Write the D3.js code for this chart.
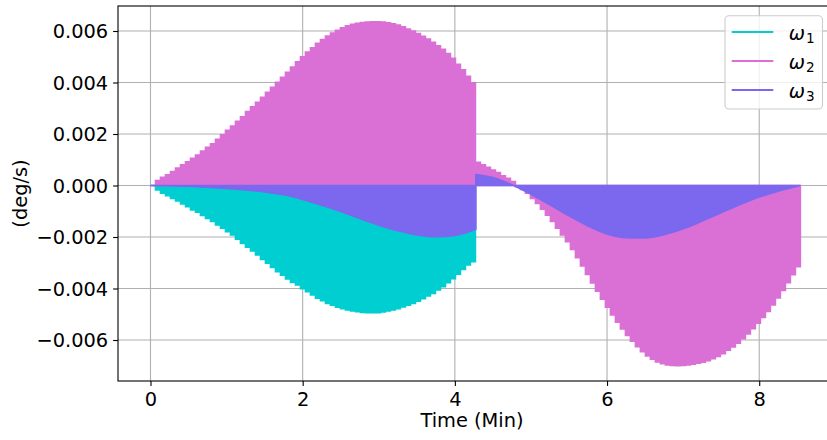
<!DOCTYPE html>
<html>
<head>
<meta charset="utf-8">
<script src="https://cdn.jsdelivr.net/npm/d3@7"></script>
<style>
  body { margin: 0; background: #fff; }
  svg { display: block; }
  text { font-family: "DejaVu Sans", sans-serif; fill: #000; }
</style>
</head>
<body>
<svg id="chart" width="827" height="440"></svg>
<script>
// Body rates during the manoeuvre, held for one control sample each (deg/s).
const SAMPLE_MIN = 0.0657;   // control sample period in minutes

const omega1 = [
  0, -0.00017, -0.0003, -0.0004, -0.0005, -0.0006, -0.00072, -0.00082, -0.00095, -0.00104,
  -0.00116, -0.00128, -0.0014, -0.00153, -0.00166, -0.00179, -0.00192, -0.00209, -0.00225, -0.0024,
  -0.00254, -0.0027, -0.00287, -0.00302, -0.00318, -0.00335, -0.00348, -0.00363, -0.00376, -0.00386,
  -0.00401, -0.00412, -0.00425, -0.00438, -0.00447, -0.00458, -0.00465, -0.00473, -0.00478, -0.00483,
  -0.00487, -0.0049, -0.00493, -0.00494, -0.00494, -0.00494, -0.00491, -0.00487, -0.00483, -0.00478,
  -0.00472, -0.00465, -0.00458, -0.00449, -0.0044, -0.00429, -0.00419, -0.00406, -0.00393, -0.00377,
  -0.00362, -0.00344, -0.00326, -0.00309, -0.00296
];

const omega2 = [
  0, 0.00019, 0.00032, 0.00042, 0.00054, 0.00068, 0.0008, 0.00092, 0.00106, 0.00118,
  0.00134, 0.00148, 0.00162, 0.00179, 0.00197, 0.00214, 0.00231, 0.00249, 0.00267, 0.00287,
  0.00306, 0.00323, 0.00343, 0.00362, 0.00381, 0.00401, 0.0042, 0.0044, 0.0046, 0.0048,
  0.005, 0.00518, 0.00535, 0.00552, 0.00567, 0.0058, 0.00592, 0.00603, 0.00612, 0.0062,
  0.00626, 0.0063, 0.00633, 0.00635, 0.00636, 0.00636, 0.00635, 0.00632, 0.00628, 0.00623,
  0.00616, 0.00608, 0.006, 0.0059, 0.00579, 0.00569, 0.00556, 0.00543, 0.00529, 0.00512,
  0.00494, 0.00471, 0.00449, 0.00424, 0.00399,
  0.0009, 0.0008, 0.00071, 0.0006, 0.0005, 0.00038, 0.00028, 0.00015,
  -0.00005, -0.00015, -0.0003, -0.0005, -0.0007, -0.00092, -0.00115, -0.0014, -0.00166, -0.00192,
  -0.00218, -0.00248, -0.0028, -0.00312, -0.00345, -0.00378, -0.0041, -0.00442, -0.00473, -0.00503,
  -0.00531, -0.00557, -0.00582, -0.00605, -0.00626, -0.00645, -0.00662,
  -0.00675, -0.00685, -0.00692, -0.00697, -0.00699, -0.007, -0.00699, -0.00697, -0.00694, -0.0069,
  -0.00686, -0.0068, -0.00673, -0.00664, -0.00653, -0.0064, -0.00627, -0.00612, -0.00595, -0.00576,
  -0.00556, -0.00535, -0.00512, -0.00489, -0.00464, -0.00437, -0.00408, -0.00377, -0.00346, -0.00315
];

// ω3 is logged on its own time base (minutes); the repeated time marks the mode switch.
const omega3Time = [
  0, 0.25, 0.5, 0.75, 1.0, 1.25, 1.5, 1.75, 2.0, 2.25, 2.5, 2.75, 3.0, 3.25, 3.5, 3.75, 4.0, 4.276,
  4.276, 4.5, 4.75, 5.0, 5.25, 5.5, 5.75, 6.0, 6.25, 6.5, 6.75, 7.0, 7.25, 7.5, 7.75, 8.0, 8.25, 8.54
];
const omega3 = [
  0, -0.00001, -0.00003, -0.00007, -0.00011, -0.00017, -0.00025, -0.00036, -0.00054, -0.00077,
  -0.00101, -0.00128, -0.00154, -0.00176, -0.00192, -0.00199, -0.00194, -0.0017,
  0.00043, 0.00031, 0.00003, -0.00034, -0.00075, -0.00118, -0.00157, -0.00188, -0.00203, -0.00204,
  -0.00191, -0.00168, -0.00138, -0.00106, -0.00074, -0.00045, -0.00022, 0
];

const seriesLabels = ["1", "2", "3"];            // subscripts of ω
const seriesColors = ["#00ced1", "#da70d6", "#7b68ee"];
const xTicks = [0, 2, 4, 6, 8];
const yTicks = [-0.006, -0.004, -0.002, 0, 0.002, 0.004, 0.006];
const xTitle = "Time (Min)";
const yTitle = "(deg/s)";

// ---- layout ----
const FONT = 19.4;
const plot = { left: 118, top: 6, right: 832.8, bottom: 381 };

const svg = d3.select("#chart");
const x = d3.scaleLinear().domain([-0.427, 8.967]).range([plot.left, plot.right]);
const y = d3.scaleLinear().domain([-0.007592, 0.006971]).range([plot.bottom, plot.top]);

svg.append("defs").append("clipPath").attr("id", "plot-clip")
  .append("rect")
  .attr("x", plot.left).attr("y", plot.top)
  .attr("width", plot.right - plot.left).attr("height", plot.bottom - plot.top);

// grid
const grid = svg.append("g").attr("stroke", "#b0b0b0").attr("stroke-width", 1.1);
grid.selectAll("line.gx").data(xTicks).join("line")
  .attr("x1", d => x(d)).attr("x2", d => x(d))
  .attr("y1", plot.top).attr("y2", plot.bottom);
grid.selectAll("line.gy").data(yTicks).join("line")
  .attr("y1", d => y(d)).attr("y2", d => y(d))
  .attr("x1", plot.left).attr("x2", plot.right);

// data
const dataLayer = svg.append("g").attr("clip-path", "url(#plot-clip)");

function stepped(values) {
  const pts = values.map((v, i) => ({ t: i * SAMPLE_MIN, v }));
  pts.push({ t: values.length * SAMPLE_MIN, v: values[values.length - 1] });
  return pts;
}

const stepArea = d3.area()
  .x(d => x(d.t)).y0(y(0)).y1(d => y(d.v))
  .curve(d3.curveStepAfter);

const smoothArea = d3.area()
  .x(d => x(d.t)).y0(y(0)).y1(d => y(d.v))
  .curve(d3.curveMonotoneX);

function drawArea(pathGen, pts, color) {
  dataLayer.append("path")
    .attr("d", pathGen(pts))
    .attr("fill", color)
    .attr("stroke", color)
    .attr("stroke-width", 1.6)
    .attr("stroke-linejoin", "miter");
}

drawArea(stepArea, stepped(omega1), seriesColors[0]);
drawArea(stepArea, stepped(omega2), seriesColors[1]);

// ω3: split into continuous pieces at the repeated time stamp
const w3pts = omega3Time.map((t, i) => ({ t, v: omega3[i] }));
const pieces = [[]];
w3pts.forEach((p, i) => {
  if (i > 0 && p.t === w3pts[i - 1].t) pieces.push([]);
  pieces[pieces.length - 1].push(p);
});
pieces.forEach(pc => drawArea(smoothArea, pc, seriesColors[2]));

// frame
svg.append("rect")
  .attr("x", plot.left).attr("y", plot.top)
  .attr("width", plot.right - plot.left).attr("height", plot.bottom - plot.top)
  .attr("fill", "none").attr("stroke", "#000").attr("stroke-width", 1.1);

// axes
const fmt = d3.format(".3f");
const xAxis = svg.append("g")
  .attr("transform", `translate(0,${plot.bottom})`)
  .call(d3.axisBottom(x).tickValues(xTicks).tickFormat(d3.format("d"))
        .tickSize(4.9).tickPadding(4.9));
const yAxis = svg.append("g")
  .attr("transform", `translate(${plot.left},0)`)
  .call(d3.axisLeft(y).tickValues(yTicks).tickFormat(fmt)
        .tickSize(4.9).tickPadding(4.9));

[xAxis, yAxis].forEach(g => {
  g.select(".domain").remove();
  g.selectAll(".tick line").attr("stroke", "#000").attr("stroke-width", 1.1);
  g.selectAll(".tick text")
    .attr("fill", "#000")
    .style("font-size", FONT + "px")
    .style("font-family", "'DejaVu Sans', sans-serif");
});
xAxis.selectAll(".tick text").attr("dy", null).attr("y", 25);
yAxis.selectAll(".tick text").attr("dy", "0.36em");

// axis titles
svg.append("text")
  .attr("x", (plot.left + 826) / 2).attr("y", 427)
  .attr("text-anchor", "middle")
  .style("font-size", FONT + "px")
  .text(xTitle);

svg.append("text")
  .attr("transform", `translate(27,${(plot.top + plot.bottom) / 2}) rotate(-90)`)
  .attr("text-anchor", "middle")
  .style("font-size", FONT + "px")
  .text(yTitle);

// legend
const legend = svg.append("g");
legend.append("rect")
  .attr("x", 725).attr("y", 15.7).attr("width", 97.5).attr("height", 93.3)
  .attr("rx", 3.9).attr("ry", 3.9)
  .attr("fill", "#fff").attr("fill-opacity", 0.8)
  .attr("stroke", "#cccccc").attr("stroke-width", 1.1);

seriesLabels.forEach((lab, i) => {
  const ly = 32 + i * 29;
  legend.append("line")
    .attr("x1", 731.7).attr("x2", 773.3).attr("y1", ly).attr("y2", ly)
    .attr("stroke", seriesColors[i]).attr("stroke-width", 2.1);
  const t = legend.append("text")
    .attr("x", 788.8).attr("y", ly + 8)
    .style("font-size", FONT + "px");
  t.append("tspan").style("font-style", "italic").text("ω");
  t.append("tspan").attr("dx", 1).attr("dy", 3).style("font-size", "13.6px").text(lab);
});
</script>
</body>
</html>
